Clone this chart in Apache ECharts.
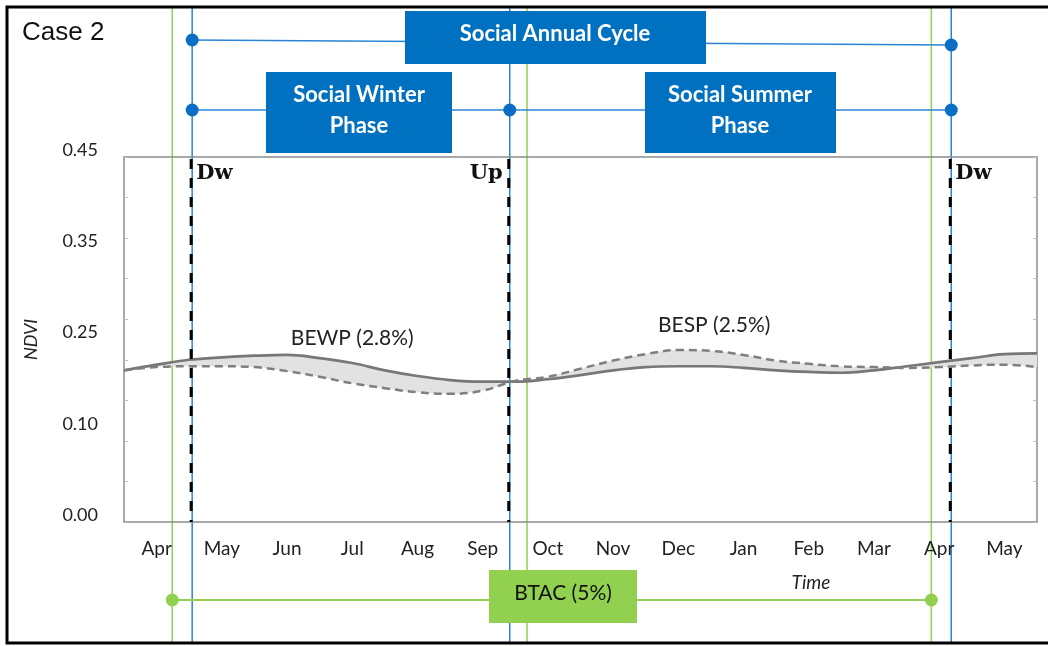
<!DOCTYPE html>
<html lang="en">
<head>
<meta charset="UTF-8">
<title>Case 2</title>
<script src="https://cdn.jsdelivr.net/npm/echarts@6/dist/echarts.min.js"></script>
<style>
	html, body { margin: 0; padding: 0; background: #fff; }
	#chart { width: 1048px; height: 646px; }
</style>
</head>
<body>
<div id="chart"></div>
<script>
	// axis labels
	const months = ['Apr', 'May', 'Jun', 'Jul', 'Aug', 'Sep', 'Oct', 'Nov', 'Dec', 'Jan', 'Feb', 'Mar', 'Apr', 'May'];
	const yTickLabels = ['0.00', '0.10', '0.25', '0.35', '0.45'];

	// time in months from the left edge (start of Apr), half-month steps
	const timePos = [0, 0.5, 1, 1.5, 2, 2.5, 3, 3.5, 4, 4.5, 5, 5.5, 6, 6.5, 7, 7.5, 8, 8.5, 9, 9.5, 10, 10.5, 11, 11.5, 12, 12.5, 13, 13.5, 14];
	// solid curve
	const solidNdvi = [0.187, 0.194, 0.200, 0.203, 0.205, 0.206, 0.202, 0.196, 0.187, 0.180, 0.175, 0.173, 0.173, 0.176, 0.181, 0.187, 0.191, 0.192, 0.192, 0.190, 0.187, 0.185, 0.184, 0.187, 0.192, 0.197, 0.202, 0.207, 0.208];
	// dashed curve
	const dashedNdvi = [0.187, 0.191, 0.192, 0.192, 0.191, 0.186, 0.179, 0.171, 0.165, 0.160, 0.158, 0.162, 0.174, 0.179, 0.189, 0.199, 0.207, 0.212, 0.211, 0.206, 0.199, 0.195, 0.192, 0.191, 0.190, 0.191, 0.193, 0.194, 0.191];

	// phase boundaries (months)
	const phaseMarks = [1.03, 5.90, 12.67];
	const phaseNames = ['Dw', 'Up', 'Dw'];
	// green (BTAC) boundaries
	const btacMarks = [0.74, 6.18, 12.38];

	// area labels: [time, ndvi, text]
	const areaLabels = [[3.5, 0.227, 'BEWP (2.8%)'], [9.05, 0.243, 'BESP (2.5%)']];

	const bandLow = solidNdvi.map((v, i) => Math.min(v, dashedNdvi[i]));
	const bandDiff = solidNdvi.map((v, i) => Math.abs(v - dashedNdvi[i]));

	const BLUE = '#2a84d6';
	const DOT_BLUE = '#0a6fc4';
	const BOX_BLUE = '#0070c0';
	const GREEN = '#92d050';
	const AXIS_GRAY = '#8c8c8c';
	const FONT = 'Lato';

	const chart = echarts.init(document.getElementById('chart'));

	const option = {
		animation: false,
		grid: { left: 124, right: 11, top: 157, bottom: 124 },
		xAxis: [
			{
				type: 'category',
				data: months,
				position: 'bottom',
				boundaryGap: true,
				axisLine: { lineStyle: { color: AXIS_GRAY, width: 1.5 } },
				axisTick: { inside: true, alignWithLabel: true, length: 4, lineStyle: { color: '#bbb' } },
				axisLabel: { color: '#222', fontSize: 19, fontFamily: FONT, margin: 17 }
			},
			// series axis: half-month steps edge to edge
			{ type: 'category', data: timePos, boundaryGap: false, show: false },
			// continuous month axis for annotations
			{ type: 'value', min: 0, max: 14, show: false },
			{
				type: 'category',
				data: months,
				position: 'top',
				boundaryGap: true,
				axisLine: { lineStyle: { color: AXIS_GRAY, width: 1.5 } },
				axisTick: { inside: true, alignWithLabel: true, length: 4, lineStyle: { color: '#bbb' } },
				axisLabel: { show: false }
			}
		],
		yAxis: [
			{
				type: 'value',
				min: 0,
				max: 0.45,
				interval: 0.1125,
				position: 'left',
				name: 'NDVI',
				nameLocation: 'middle',
				nameGap: 84,
				nameRotate: 90,
				nameTextStyle: { fontStyle: 'italic', fontSize: 18, color: '#222', fontFamily: FONT },
				axisLine: { show: true, lineStyle: { color: AXIS_GRAY, width: 1.5 } },
				axisTick: { show: false },
				splitLine: { show: false },
				axisLabel: {
					color: '#222', fontSize: 18, fontFamily: FONT, margin: 26,
					verticalAlign: 'bottom', lineHeight: 14,
					formatter: v => yTickLabels[Math.round(v / 0.1125)]
				}
			},
			{
				type: 'value', min: 0, max: 0.45, interval: 0.05, position: 'left',
				axisLine: { show: false }, axisLabel: { show: false }, splitLine: { show: false },
				axisTick: { inside: true, length: 4, lineStyle: { color: '#bbb' } }
			},
			{
				type: 'value', min: 0, max: 0.45, interval: 0.05, position: 'right',
				axisLine: { show: true, lineStyle: { color: AXIS_GRAY, width: 1.5 } },
				axisLabel: { show: false }, splitLine: { show: false },
				axisTick: { inside: true, length: 4, lineStyle: { color: '#bbb' } }
			}
		],
		series: [
			{
				name: 'low', type: 'line', xAxisIndex: 1, yAxisIndex: 0, stack: 'band',
				data: bandLow, smooth: 0.4, symbol: 'none',
				lineStyle: { opacity: 0 }, silent: true
			},
			{
				name: 'gap', type: 'line', xAxisIndex: 1, yAxisIndex: 0, stack: 'band',
				data: bandDiff, smooth: 0.4, symbol: 'none',
				lineStyle: { opacity: 0 }, areaStyle: { color: '#e2e2e2', opacity: 1 }, silent: true
			},
			{
				name: 'solid', type: 'line', xAxisIndex: 1, yAxisIndex: 0,
				data: solidNdvi, smooth: 0.4, symbol: 'none',
				lineStyle: { color: '#777', width: 2.7 }
			},
			{
				name: 'dashed', type: 'line', xAxisIndex: 1, yAxisIndex: 0,
				data: dashedNdvi, smooth: 0.4, symbol: 'none',
				lineStyle: { color: '#7f7f7f', width: 2.5, type: [8, 5] }
			}
		]
	};

	chart.setOption(option);

	// annotations around the plot, placed with the chart's own scales
	const px = v => chart.convertToPixel({ xAxisIndex: 2 }, v);
	const py = v => chart.convertToPixel({ yAxisIndex: 0 }, v);
	const phasePx = phaseMarks.map(px);
	const btacPx = btacMarks.map(px);
	const plotTop = py(0.45);
	const plotBottom = py(0);

	const g = [];
	const vline = (x, color) => g.push({
		type: 'line', z: 0, silent: true,
		shape: { x1: x, y1: 8, x2: x, y2: 642 },
		style: { stroke: color, lineWidth: 1.5 }
	});
	const hline = (x1, y1, x2, y2, color, w) => g.push({
		type: 'line', z: 1, silent: true,
		shape: { x1, y1, x2, y2 },
		style: { stroke: color, lineWidth: w }
	});
	const dot = (x, y, color) => g.push({
		type: 'circle', z: 2, silent: true,
		shape: { cx: x, cy: y, r: 6.5 },
		style: { fill: color }
	});
	const box = (x, y, w, h, color) => g.push({
		type: 'rect', z: 10, silent: true,
		shape: { x, y, width: w, height: h },
		style: { fill: color }
	});
	const text = (t, x, y, font, color, align) => g.push({
		type: 'text', z: 11, silent: true,
		style: { text: t, x, y, font, fill: color, align: align || 'center', verticalAlign: 'middle' }
	});

	phasePx.forEach(x => vline(x + 1, BLUE));
	btacPx.forEach(x => vline(x, GREEN));

	// Dw / Up boundaries inside the plot
	phasePx.forEach(x => g.push({
		type: 'line', z: 5, silent: true,
		shape: { x1: x, y1: plotTop + 2, x2: x, y2: plotBottom },
		style: { stroke: '#000', lineWidth: 3, lineDash: [10, 9] }
	}));

	// social annual cycle
	hline(phasePx[0], 40, phasePx[2], 45, BLUE, 1.5);
	dot(phasePx[0] + 1, 40, DOT_BLUE);
	dot(phasePx[2] + 1, 45, DOT_BLUE);
	box(405, 11, 301, 53, BOX_BLUE);
	text('Social Annual Cycle', 555, 34, 'bold 22px ' + FONT, '#fff');

	// winter / summer phases
	hline(phasePx[0], 110, phasePx[2], 110, BLUE, 1.5);
	phasePx.forEach(x => dot(x + 1, 110, DOT_BLUE));
	box(266, 72, 186, 81, BOX_BLUE);
	text('Social Winter', 359, 95, 'bold 22px ' + FONT, '#fff');
	text('Phase', 359, 126, 'bold 22px ' + FONT, '#fff');
	box(645, 72, 191, 81, BOX_BLUE);
	text('Social Summer', 740, 95, 'bold 22px ' + FONT, '#fff');
	text('Phase', 740, 126, 'bold 22px ' + FONT, '#fff');

	// BTAC
	hline(btacPx[0], 600, btacPx[2], 600, GREEN, 2);
	dot(btacPx[0], 600, GREEN);
	dot(btacPx[2], 600, GREEN);
	box(489, 570, 148, 53, GREEN);
	text('BTAC (5%)', 563, 593, '21px ' + FONT, '#111');

	// Dw / Up labels
	phaseNames.forEach((name, i) => {
		const left = name === 'Dw';
		text(name, phasePx[i] + (left ? 5 : -6), plotTop + 17, 'bold 21px "DejaVu Serif"', '#111', left ? 'left' : 'right');
	});

	// area labels
	areaLabels.forEach(([x, y, t]) => text(t, px(x), py(y), '21px ' + FONT, '#222'));

	text('Time', 811, 583, 'italic 19px ' + FONT, '#222');
	text('Case 2', 22, 33, '26px "Liberation Sans"', '#111', 'left');

	// outer frame
	g.push({
		type: 'rect', z: 20, silent: true,
		shape: { x: 7, y: 7, width: 1060, height: 636 },
		style: { fill: 'none', stroke: '#000', lineWidth: 3 }
	});

	chart.setOption({ graphic: { elements: g } });
</script>
</body>
</html>
